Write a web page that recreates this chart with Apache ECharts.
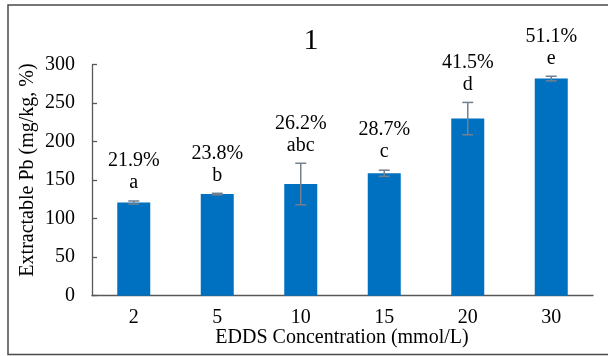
<!DOCTYPE html>
<html>
<head>
<meta charset="utf-8">
<script src="https://cdn.jsdelivr.net/npm/echarts@6/dist/echarts.min.js"></script>
<style>html,body{margin:0;padding:0;background:#fff;}#c{width:608px;height:356px;}</style>
</head>
<body>
<div id="c"></div>
<script>
const categories = ['2', '5', '10', '15', '20', '30'];
const values = [121, 132, 145, 159, 230, 282];
const errors = [2, 1, 27, 4, 21, 3];
const percents = ['21.9%', '23.8%', '26.2%', '28.7%', '41.5%', '51.1%'];
const letters = ['a', 'b', 'abc', 'c', 'd', 'e'];
const yTicks = [0, 50, 100, 150, 200, 250, 300];

const FONT = '"Liberation Serif", "Times New Roman", serif';
const chart = echarts.init(document.getElementById('c'), null, {renderer: 'canvas'});

const errData = values.map((v, i) => [i, v, errors[i]]);

chart.setOption({
  animation: false,
  backgroundColor: '#fff',
  grid: {left: 92, right: 15, top: 64.7, bottom: 60.3, containLabel: false},
  xAxis: {
    type: 'category',
    data: categories,
    axisLine: {lineStyle: {color: '#595959', width: 1.3}},
    axisTick: {show: false},
    axisLabel: {color: '#000', fontFamily: FONT, fontSize: 20, margin: 12}
  },
  yAxis: {
    type: 'value',
    min: yTicks[0],
    max: yTicks[yTicks.length - 1],
    interval: yTicks[1] - yTicks[0],
    splitLine: {show: false},
    axisLine: {show: true, lineStyle: {color: '#595959', width: 1.3}},
    axisTick: {show: true, inside: true, length: 5, lineStyle: {color: '#595959', width: 1.3}},
    axisLabel: {color: '#000', fontFamily: FONT, fontSize: 20, margin: 17}
  },
  graphic: [
    {type: 'rect', shape: {x: 8, y: 5, width: 640, height: 349.5}, style: {fill: 'none', stroke: '#4a4a4a', lineWidth: 1.5}, z: 100, silent: true},
    {type: 'text', x: 311, y: 41, style: {text: '1', font: '30px ' + FONT, fill: '#000', textAlign: 'center', textVerticalAlign: 'middle'}},
    {type: 'text', x: 28, y: 170, rotation: Math.PI / 2, style: {text: 'Extractable Pb (mg/kg, %)', font: '20px ' + FONT, fill: '#000', textAlign: 'center', textVerticalAlign: 'middle'}},
    {type: 'text', x: 342, y: 338, style: {text: 'EDDS Concentration (mmol/L)', font: '20px ' + FONT, fill: '#000', textAlign: 'center', textVerticalAlign: 'middle'}}
  ],
  series: [
    {
      type: 'bar',
      data: values,
      barWidth: 33,
      itemStyle: {color: '#0070C0'},
      z: 2
    },
    {
      type: 'custom',
      data: errData,
      z: 5,
      renderItem: function (params, api) {
        const i = api.value(0), v = api.value(1), e = api.value(2);
        const hi = api.coord([i, v + e]);
        const lo = api.coord([i, v - e]);
        const cap = 5.5;
        const stroke = {stroke: '#73808e', lineWidth: 1.5};
        return {
          type: 'group',
          children: [
            {type: 'line', shape: {x1: hi[0], y1: hi[1], x2: lo[0], y2: lo[1]}, style: stroke},
            {type: 'line', shape: {x1: hi[0] - cap, y1: hi[1], x2: hi[0] + cap, y2: hi[1]}, style: stroke},
            {type: 'line', shape: {x1: lo[0] - cap, y1: lo[1], x2: lo[0] + cap, y2: lo[1]}, style: stroke},
            {type: 'text', x: hi[0], y: hi[1] - 18, style: {text: letters[params.dataIndex], font: '20px ' + FONT, fill: '#000', textAlign: 'center', textVerticalAlign: 'middle'}},
            {type: 'text', x: hi[0], y: hi[1] - 40, style: {text: percents[params.dataIndex], font: '20px ' + FONT, fill: '#000', textAlign: 'center', textVerticalAlign: 'middle'}}
          ]
        };
      }
    }
  ]
});
</script>
</body>
</html>
